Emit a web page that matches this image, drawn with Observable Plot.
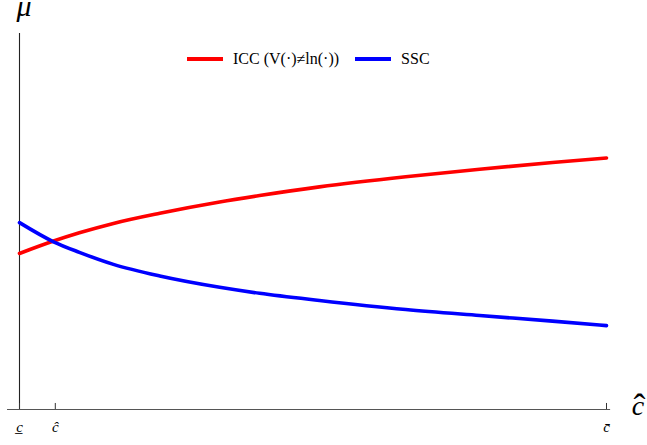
<!DOCTYPE html>
<html>
<head>
<meta charset="utf-8">
<script src="https://cdn.jsdelivr.net/npm/d3@7"></script>
<script src="https://cdn.jsdelivr.net/npm/@observablehq/plot@0.6"></script>
<style>
  html, body { margin: 0; padding: 0; background: #fff; }
  #chart { position: relative; width: 647px; height: 445px; }
  #legend { position: absolute; left: 187px; top: 50px; font-family: "Liberation Serif", serif; font-size: 16px; color: #000; display: flex; align-items: center; white-space: nowrap; }
  #legend .sw { display: inline-block; width: 36px; height: 4px; margin-right: 10px; }
  #legend .item { display: flex; align-items: center; }
</style>
</head>
<body>
<div id="chart"></div>
<script>
// cost threshold (c̲ = 0 … c̄ = 1) and equilibrium μ of each condition
const cValues   = [0, 0.058, 0.102, 0.160, 0.239, 0.341, 0.409, 0.511, 0.658, 0.784, 0.908, 1.0];
const iccValues = [4.15, 4.48, 4.70, 4.95, 5.22, 5.52, 5.69, 5.92, 6.19, 6.39, 6.57, 6.69];
const sscValues = [4.97, 4.46, 4.18, 3.86, 3.55, 3.25, 3.09, 2.90, 2.66, 2.50, 2.35, 2.23];

const seriesNames  = ["ICC (V(\u00b7)\u2260ln(\u00b7))", "SSC"];
const seriesColors = ["#ff0000", "#0000ff"];

const tickValues = [0, 0.061, 1];
const tickLabels = ["c\u0332", "\u0109", "c\u0304"];

const rows = [
  ...cValues.map((c, i) => ({c, mu: iccValues[i], s: seriesNames[0]})),
  ...cValues.map((c, i) => ({c, mu: sscValues[i], s: seriesNames[1]}))
];

const serif = "'Liberation Serif', 'Times New Roman', serif";

const plot = Plot.plot({
  width: 647,
  height: 445,
  marginLeft: 19,
  marginRight: 41,
  marginTop: 33,
  marginBottom: 36,
  x: {domain: [0, 1], axis: null},
  y: {domain: [0, 10], axis: null},
  color: {domain: seriesNames, range: seriesColors},
  style: {background: "#fff", overflow: "visible"},
  marks: [
    // axes
    Plot.ruleY([0], {x1: -0.0204, x2: 1.007, stroke: "#555", strokeWidth: 1.2, clip: false}),
    Plot.ruleX([0], {y1: 0, y2: 10, stroke: "#222", strokeWidth: 1.1}),
    Plot.ruleX(tickValues, {x: d => d, y1: 0, y2: 0.16, stroke: "#333", strokeWidth: 1}),
    Plot.text(tickValues, {
      x: d => d, y: 0, text: (d, i) => tickLabels[i], dy: 18,
      fontFamily: serif, fontStyle: "italic", fontSize: 15, fill: "#000"
    }),
    // curves
    Plot.line(rows, {x: "c", y: "mu", z: "s", stroke: "s", strokeWidth: 3.6, curve: "monotone-x"}),
    // axis titles
    Plot.text(["\u03bc"], {
      frameAnchor: "top-left", textAnchor: "middle", lineAnchor: "middle", dx: 4.5, dy: -27.5,
      fontFamily: serif, fontStyle: "italic", fontSize: 30, fill: "#000"
    }),
    Plot.text(["c"], {
      frameAnchor: "bottom-right", textAnchor: "middle", lineAnchor: "middle", dx: 32, dy: -3,
      fontFamily: serif, fontStyle: "italic", fontSize: 28, fill: "#000"
    })
  ]
});

// wide hat over the horizontal-axis title, as a larger tspan inside the same text
d3.select(plot).selectAll("text")
  .filter(function () { return this.textContent === "c"; })
  .append("tspan")
  .attr("font-size", 36)
  .attr("font-style", "normal")
  .attr("dx", -10.7)
  .attr("dy", 3.5)
  .text("\u02c6");

const chart = document.getElementById("chart");
chart.appendChild(plot);

const legend = document.createElement("div");
legend.id = "legend";
seriesNames.forEach((name, i) => {
  const item = document.createElement("span");
  item.className = "item";
  item.style.marginRight = i === 0 ? "16px" : "0";
  const sw = document.createElement("span");
  sw.className = "sw";
  sw.style.background = seriesColors[i];
  item.appendChild(sw);
  item.appendChild(document.createTextNode(name));
  legend.appendChild(item);
});
chart.appendChild(legend);
</script>
</body>
</html>
